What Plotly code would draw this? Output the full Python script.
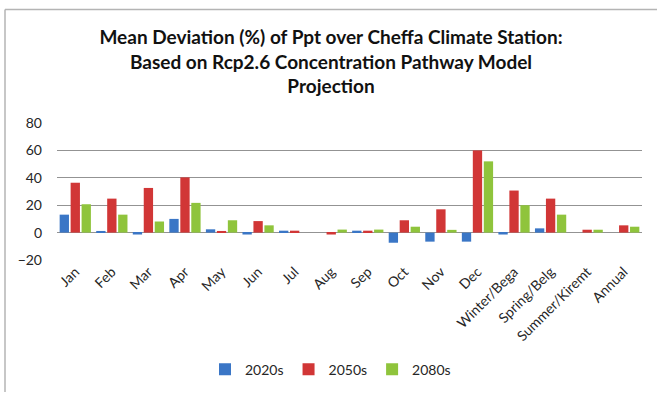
import plotly.graph_objects as go

# Mean deviation (%) of precipitation, Cheffa station, RCP2.6
categories = ["Jan", "Feb", "Mar", "Apr", "May", "Jun", "Jul", "Aug", "Sep", "Oct",
              "Nov", "Dec", "Winter/Bega", "Spring/Belg", "Summer/Kiremt", "Annual"]
dev_2020s = [13.1, 1.2, -1.4, 10.0, 2.4, -1.4, 1.4, 0.0, 1.4, -7.4,
             -6.6, -6.6, -1.4, 3.1, 0.0, 0.0]
dev_2050s = [36.4, 24.8, 32.6, 40.3, 1.2, 8.4, 1.4, -1.4, 1.4, 9.0,
             17.0, 60.0, 30.7, 24.8, 2.1, 5.3]
dev_2080s = [20.7, 13.1, 8.1, 21.7, 9.0, 5.3, 0.0, 2.2, 2.2, 4.3,
             2.0, 52.0, 20.0, 13.1, 2.1, 4.3]
y_ticks = [-20, 0, 20, 40, 60, 80]

series = [("2020s", dev_2020s, "#3a76c6"),
          ("2050s", dev_2050s, "#d13636"),
          ("2080s", dev_2080s, "#8fc43c")]

W, H = 657, 398
L, R, T, B = 57, 15, 123, 135
pw, ph = W - L - R, H - T - B

fig = go.Figure()
for name, vals, col in series:
    fig.add_trace(go.Bar(x=categories, y=vals, name=name, marker_color=col,
                         marker_line_width=0))

font_family = "Lato, 'Open Sans', sans-serif"
text_col = "#262626"

# outer frame (top and left edges)
def px_x(x):
    return (x - L) / pw

def px_y(y):
    return (T + ph - y) / ph

fig.add_shape(type="line", xref="paper", yref="paper",
              x0=px_x(5), x1=px_x(W), y0=px_y(7), y1=px_y(7),
              line=dict(color="#b4b4b4", width=1.5))
fig.add_shape(type="line", xref="paper", yref="paper",
              x0=px_x(5), x1=px_x(5), y0=px_y(7), y1=px_y(H),
              line=dict(color="#b4b4b4", width=1.5))

fig.update_layout(
    width=W, height=H,
    margin=dict(l=L, r=R, t=T, b=B),
    paper_bgcolor="white", plot_bgcolor="white",
    barmode="group", bargap=0.1, bargroupgap=0.15,
    title=dict(
        text="Mean Deviation (%) of Ppt over Cheffa Climate Station:<br>"
             "Based on Rcp2.6 Concentration Pathway Model<br>Projection",
        x=331 / W, xref="container", xanchor="center",
        y=1 - 44 / H, yref="container", yanchor="middle",
        font=dict(family=font_family, size=19, color="#111111", weight="bold"),
    ),
    font=dict(family=font_family, size=14, color=text_col),
    showlegend=True,
    legend=dict(orientation="h", x=px_x(205), xanchor="left",
                y=px_y(375), yanchor="middle",
                font=dict(size=14, color=text_col),
                itemwidth=30, traceorder="normal"),
    xaxis=dict(type="category", tickangle=-45, showgrid=False,
               ticks="", showline=False, zeroline=False,
               tickfont=dict(size=14, color=text_col)),
    yaxis=dict(range=[-20, 80], tickvals=y_ticks, showgrid=True,
               gridcolor="#939393", gridwidth=1, zeroline=True,
               zerolinecolor="#939393", zerolinewidth=1,
               showline=False, ticks="", ticklabelstandoff=14,
               tickfont=dict(size=14, color=text_col)),
)

fig.write_html("out.html")
